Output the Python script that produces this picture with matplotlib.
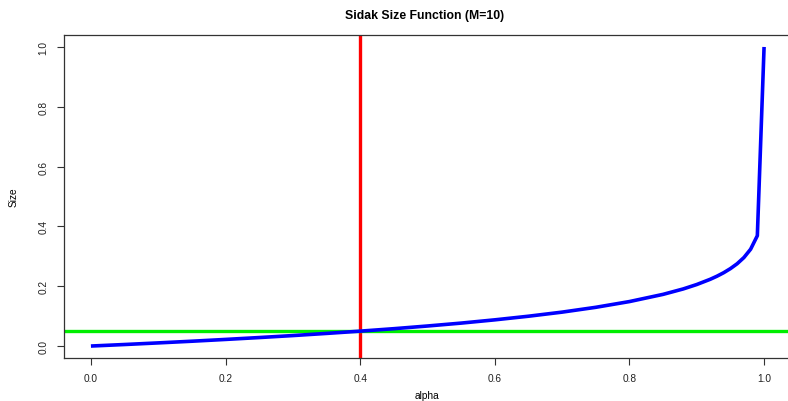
import matplotlib
matplotlib.use("Agg")
import matplotlib.pyplot as plt

alpha = [0.0, 0.05, 0.1, 0.15, 0.2, 0.25, 0.3, 0.35, 0.4, 0.45, 0.5, 0.55, 0.6,
         0.65, 0.7, 0.75, 0.8, 0.85, 0.88, 0.9, 0.92, 0.93, 0.94, 0.95, 0.96,
         0.97, 0.98, 0.99, 1.0]
size = [0.0, 0.0051, 0.0105, 0.0161, 0.0221, 0.0284, 0.0350, 0.0422, 0.0498,
        0.0580, 0.0670, 0.0767, 0.0876, 0.0997, 0.1134, 0.1295, 0.1487, 0.1728,
        0.1910, 0.2057, 0.2232, 0.2335, 0.2452, 0.2589, 0.2752, 0.2958, 0.3237,
        0.3690, 1.0]
vline_x = 0.4
hline_y = 0.05
xticks = [0.0, 0.2, 0.4, 0.6, 0.8, 1.0]
yticks = [0.0, 0.2, 0.4, 0.6, 0.8, 1.0]

plt.rcParams['font.family'] = ['Liberation Sans', 'DejaVu Sans']

fig = plt.figure(figsize=(7.88, 4.02), dpi=100)
ax = fig.add_axes([64/788, (402-359)/402, (791-64)/788, (359-36)/402])

ax.plot(alpha, size, color='#0000ff', lw=2.6, solid_capstyle='butt', zorder=3)
ax.axvline(vline_x, color='#ff0000', lw=2.4, zorder=2)
ax.axhline(hline_y, color='#00ee00', lw=2.4, zorder=2)

ax.set_xlim(-0.04, 1.04)
ax.set_ylim(-0.04, 1.04)
ax.set_xticks(xticks)
ax.set_xticklabels([f"{v:.1f}" for v in xticks])
ax.set_yticks(yticks)
ax.set_yticklabels([f"{v:.1f}" for v in yticks], rotation=90, va='center')
ax.tick_params(axis='both', direction='out', length=5, width=0.8, colors='#333333',
               labelsize=7.3, labelcolor='#222222', pad=6)
for s in ax.spines.values():
    s.set_linewidth(0.9)
    s.set_color('#333333')
ax.spines['right'].set_visible(False)

fig.text(427/788, 1 - 396/402, 'alpha', ha='center', va='center', fontsize=7.3)
fig.text(14/788, 1 - 197/402, 'Size', ha='center', va='center', fontsize=7.3,
         rotation=90)
fig.text(425/788, 1 - 16/402, 'Sidak Size Function (M=10)', ha='center', va='center',
         fontsize=8.8, fontweight='bold')

fig.savefig('out.png', dpi=100)
